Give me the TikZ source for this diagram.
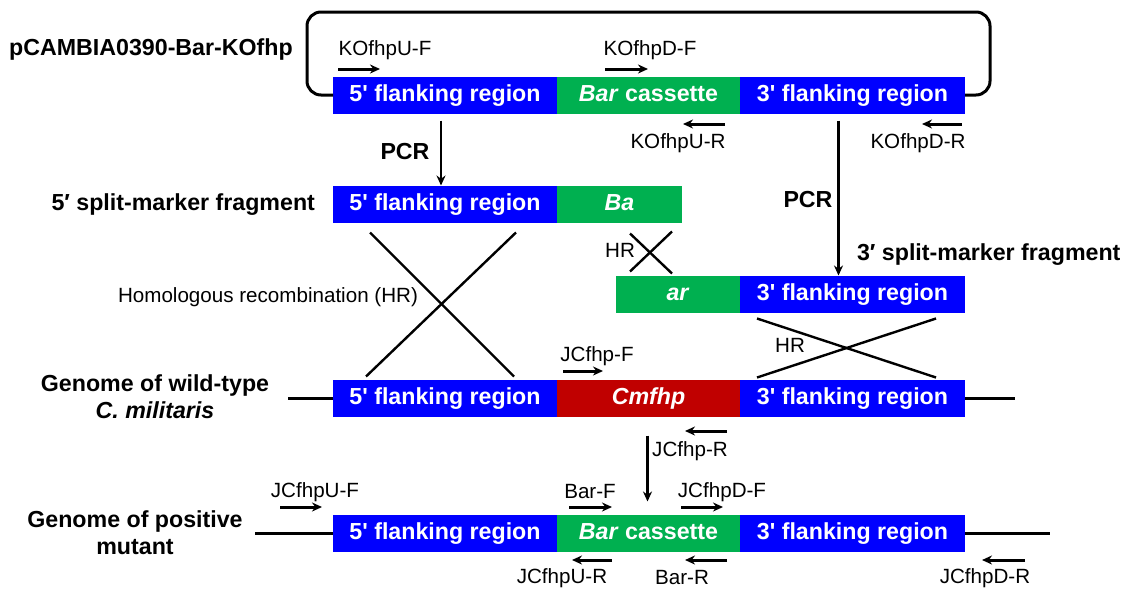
\documentclass[tikz,border=0pt]{standalone}
\usepackage{fontspec}
\setmainfont{Liberation Sans}
\usetikzlibrary{positioning,arrows.meta}

\definecolor{flankblue}{RGB}{0,0,255}
\definecolor{bargreen}{RGB}{0,176,80}
\definecolor{genered}{RGB}{192,0,0}

\newcommand{\flank}[1]{#1\textquotesingle\ flanking region}

\tikzset{
  seg/.style={rectangle, inner sep=0pt, outer sep=0pt, minimum height=18.5pt,
    text height=8.6pt, text depth=2.6pt,
    text=white, font=\fontsize{11.6}{13}\selectfont\bfseries},
  flankbox/.style={seg, fill=flankblue, minimum width=112pt},
  barbox/.style={seg, fill=bargreen},
  genebox/.style={seg, fill=genered},
  lbl/.style={font=\fontsize{11.6}{13.5}\selectfont\bfseries, align=center},
  primer/.style={font=\fontsize{10.3}{12}\selectfont},
  primarrow/.style={line width=1.5pt, -{Stealth[length=5pt,width=4.5pt]}},
  flow/.style={line width=1.2pt, -{Stealth[length=5pt,width=4.5pt]}},
  hr/.style={line width=1.2pt},
  dna/.style={line width=1.5pt}
}

\begin{document}
\begin{tikzpicture}[x=0.5pt, y=-0.5pt]
  \useasboundingbox (0,0) rectangle (1128,594);

  % Plasmid
  \node[flankbox] (u1) at (445,95) {\flank{5}};
  \node[barbox, minimum width=91.5pt, right=0pt of u1] (b1) {\textit{Bar} cassette};
  \node[flankbox, minimum width=112.5pt, right=0pt of b1] (d1) {\flank{3}};
  \draw[dna, rounded corners=7pt] (u1.west) -- ++(-26,0) -- ++(0,-83) -- ++(683,0) -- ++(0,83) -- (d1.east);
  \node[lbl] (plasmid) at (151,50) {pCAMBIA0390-Bar-KOfhp};

  % Primers on the plasmid
  \node[primer] (kouf) at (385,50) {KOfhpU-F};
  \draw[primarrow] (338,69) -- (380,69);
  \node[primer] (kodf) at (650,50) {KOfhpD-F};
  \draw[primarrow] (605,69) -- (648,69);
  \draw[primarrow] (725,124) -- (683,124);
  \node[primer] (kour) at (678,143) {KOfhpU-R};
  \draw[primarrow] (962,124) -- (922,124);
  \node[primer] (kodr) at (918,143) {KOfhpD-R};

  % 5' split-marker fragment
  \node[flankbox] (u2) at (445,204) {\flank{5}};
  \node[barbox, minimum width=62.5pt, right=0pt of u2] (b2) {\textit{Ba}};
  \node[lbl, anchor=east] (frag5) at (322,205) {5′ split-marker fragment};

  % 3' split-marker fragment
  \node[barbox, minimum width=62pt] (b3) at (678,294) {\textit{ar}};
  \node[flankbox, minimum width=112.5pt, right=0pt of b3] (d3) {\flank{3}};
  \node[lbl, anchor=west] (frag3) at (850,255) {3′ split-marker fragment};

  % PCR steps
  \draw[flow] ([shift={(-4,7)}]u1.south) -- ([shift={(-4,0)}]u2.north);
  \node[lbl] (pcr5) at (405,152) {PCR};
  \draw[flow] ([shift={(-14,7)}]d1.south) -- ([shift={(-14,0)}]d3.north);
  \node[lbl] (pcr3) at (808,200) {PCR};

  % Wild-type genome
  \node[flankbox] (u4) at (445,398) {\flank{5}};
  \node[genebox, minimum width=91.5pt, right=0pt of u4] (g4) {\textit{Cmfhp}};
  \node[flankbox, minimum width=112.5pt, right=0pt of g4] (d4) {\flank{3}};
  \draw[dna] (u4.west) -- ++(-45,0);
  \draw[dna] (d4.east) -- ++(50,0);
  \node[lbl] (wt) at (155,397) {Genome of wild-type\\\textit{C. militaris}};
  \node[primer] (jcf) at (597,356) {JCfhp-F};
  \draw[primarrow] (563,371) -- (603,371);
  \draw[primarrow] (727,431) -- (685,431);
  \node[primer] (jcr) at (690,451) {JCfhp-R};

  % Homologous recombination
  \draw[hr] ([shift={(37,10)}]u2.south west) -- ([shift={(181,-3)}]u4.north west);
  \draw[hr] ([shift={(183,10)}]u2.south west) -- ([shift={(33,-3)}]u4.north west);
  \node[primer] (hrbig) at (268,297) {Homologous recombination (HR)};
  \draw[hr] ([shift={(73,11)}]b2.south west) -- ([shift={(56,-2)}]b3.north west);
  \draw[hr] ([shift={(115,9)}]b2.south west) -- ([shift={(14,-4)}]b3.north west);
  \node[primer] (hrsmall) at (620,250) {HR};
  \draw[hr] ([shift={(17,6)}]d3.south west) -- ([shift={(196,-2)}]d4.north west);
  \draw[hr] ([shift={(196,6)}]d3.south west) -- ([shift={(17,-2)}]d4.north west);
  \node[primer] (hrright) at (790,345) {HR};

  % Positive mutant genome
  \node[flankbox] (u5) at (445,533) {\flank{5}};
  \node[barbox, minimum width=91.5pt, right=0pt of u5] (b5) {\textit{Bar} cassette};
  \node[flankbox, minimum width=112.5pt, right=0pt of b5] (d5) {\flank{3}};
  \draw[dna] (u5.west) -- ++(-78,0);
  \draw[dna] (d5.east) -- ++(85,0);
  \node[lbl] (mut) at (135,533) {Genome of positive\\mutant};
  \draw[flow] ([shift={(-1,19)}]g4.south) -- ([shift={(-1,-13)}]b5.north);

  % Primers on the mutant
  \node[primer] (juf) at (315,492) {JCfhpU-F};
  \draw[primarrow] (280,507) -- (322,507);
  \node[primer] (barf) at (590,492) {Bar-F};
  \draw[primarrow] (569,507) -- (612,507);
  \node[primer] (jdf) at (722,492) {JCfhpD-F};
  \draw[primarrow] (681,507) -- (723,507);
  \draw[primarrow] (612,560) -- (572,560);
  \node[primer] (jur) at (562,578) {JCfhpU-R};
  \draw[primarrow] (727,560) -- (685,560);
  \node[primer] (barr) at (682,578) {Bar-R};
  \draw[primarrow] (1025,560) -- (982,560);
  \node[primer] (jdr) at (985,578) {JCfhpD-R};
\end{tikzpicture}
\end{document}
